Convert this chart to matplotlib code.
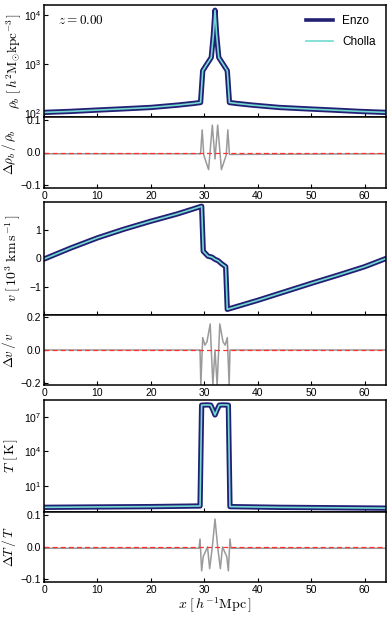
import matplotlib
matplotlib.use("Agg")
import matplotlib.pyplot as plt
from matplotlib.ticker import FixedLocator, NullLocator

plt.rcParams['font.family'] = ['Liberation Sans', 'DejaVu Sans']
plt.rcParams['mathtext.fontset'] = 'cm'

# ---------------- data ----------------
x_rho = [0, 5, 10, 15, 20, 25, 28, 29.3, 29.7, 30.5, 31.3, 31.7, 32.0, 32.3, 32.7, 33.5, 34.3, 34.7, 36, 39, 44, 49, 54, 59, 64]
rho = [103, 108, 115, 122, 130, 145, 157, 164, 730, 1000, 1360, 4000, 12500, 4000, 1360, 1000, 730, 164, 157, 145, 130, 122, 115, 108, 103]

x_drho = [0, 29.3, 29.6, 29.9, 30.8, 31.5, 32.0, 32.5, 33.2, 34.1, 34.4, 34.7, 64]
drho = [-0.004, -0.004, 0.07, -0.008, -0.053, 0.085, -0.02, 0.085, -0.053, -0.008, 0.07, -0.006, -0.004]

x_v = [0, 5, 10, 15, 20, 25, 29.5, 29.8, 30.7, 31.4, 32.0, 32.6, 33.2, 34.0, 34.3, 40, 45, 50, 55, 60, 64]
vel = [-0.02, 0.37, 0.73, 1.04, 1.32, 1.58, 1.85, 0.26, 0.08, 0.05, -0.03, -0.08, -0.18, -0.29, -1.80, -1.48, -1.18, -0.88, -0.59, -0.29, 0.0]

x_dv = [0, 29.2, 29.35, 29.7, 30.1, 30.5, 31.1, 31.6, 32.0, 32.4, 32.9, 33.5, 33.9, 34.3, 34.65, 34.8, 64]
dv = [0.0, 0.0, -0.215, 0.076, 0.03, 0.05, 0.16, -0.215, 0.0, -0.215, 0.16, 0.05, 0.03, 0.076, -0.215, 0.0, 0.0]

x_T = [0, 10, 20, 29.2, 29.5, 30.5, 31.2, 31.6, 32.0, 32.4, 32.8, 33.5, 34.5, 34.8, 44, 54, 64]
temp = [0.13, 0.14, 0.15, 0.17, 1.0e8, 1.05e8, 1.0e8, 4.0e7, 1.4e7, 4.0e7, 1.0e8, 1.05e8, 1.0e8, 0.15, 0.13, 0.12, 0.11]

x_dT = [0, 29.0, 29.2, 29.5, 29.8, 30.2, 30.6, 31.0, 31.5, 32.0, 32.5, 33.0, 33.4, 33.8, 34.2, 34.5, 34.8, 35.0, 64]
dT = [-0.004, -0.004, 0.025, -0.075, -0.03, -0.015, 0.0, -0.068, 0.0, 0.088, 0.0, -0.068, 0.0, -0.015, -0.03, -0.075, 0.025, -0.004, -0.004]

xticks = [0, 10, 20, 30, 40, 50, 60]

enzo_c = '#221f75'
cholla_c = '#72dad0'

# ---------------- layout ----------------
W, H = 391, 621
fig = plt.figure(figsize=(W / 100, H / 100), dpi=100)
L, R = 44, 386

def ax_px(top, bottom):
    return fig.add_axes([L / W, 1 - bottom / H, (R - L) / W, (bottom - top) / H])

groups = [(5, 117, 188), (202, 315, 385), (400, 512, 582)]

def style(ax):
    ax.tick_params(direction='in', labelsize=7.5, length=3, width=0.8, top=False, right=False, pad=2)
    for s in ax.spines.values():
        s.set_linewidth(1.1)
    ax.set_xlim(0, 64)
    ax.xaxis.set_major_locator(FixedLocator(xticks))

mains, ress = [], []
for top, mid, bot in groups:
    m = ax_px(top, mid)
    r = ax_px(mid, bot)
    style(m); style(r)
    m.tick_params(labelbottom=False)
    mains.append(m); ress.append(r)

# density
ax = mains[0]
ax.plot(x_rho, rho, color=enzo_c, lw=3.8, label='Enzo', solid_joinstyle='round')
ax.plot(x_rho, rho, color=cholla_c, lw=1.2, label='Cholla')
ax.set_yscale('log')
ax.set_ylim(83, 1.6e4)
ax.yaxis.set_major_locator(FixedLocator([1e2, 1e3, 1e4]))
ax.yaxis.set_minor_locator(NullLocator())
ax.set_ylabel(r'$\rho_b\ [\,h^2\mathrm{M}_{\odot}\mathrm{kpc}^{-3}\,]$', fontsize=9.5)
ax.yaxis.set_label_coords(-0.062, 0.5)
ax.text(0.04, 0.92, r'$z = 0.00$', transform=ax.transAxes, fontsize=9.5, va='top', ha='left')
leg = ax.legend(loc='upper right', frameon=False, fontsize=8.5, handlelength=2.3,
                borderaxespad=0.45, handletextpad=0.8, labelspacing=0.75)
leg.get_lines()[0].set_linewidth(2.6)
leg.get_lines()[1].set_linewidth(1.2)

r = ress[0]
r.plot(x_drho, drho, color='#9a9a9a', lw=1.1)
r.axhline(0, color='#ff3030', lw=0.9, ls=(0, (4, 2.5)))
r.set_ylim(-0.11, 0.11)
r.yaxis.set_major_locator(FixedLocator([-0.1, 0.0, 0.1]))
r.set_ylabel(r'$\Delta\rho_b\,/\,\rho_b$', fontsize=9.5)
r.yaxis.set_label_coords(-0.076, 0.5)

# velocity
ax = mains[1]
ax.plot(x_v, vel, color=enzo_c, lw=3.8, solid_joinstyle='round')
ax.plot(x_v, vel, color=cholla_c, lw=1.2)
ax.set_ylim(-2.0, 2.0)
ax.yaxis.set_major_locator(FixedLocator([-1, 0, 1]))
ax.set_ylabel(r'$v\ [\,10^3\ \mathrm{km\,s^{-1}}\,]$', fontsize=10)
ax.yaxis.set_label_coords(-0.061, 0.5)

r = ress[1]
r.plot(x_dv, dv, color='#9a9a9a', lw=1.1)
r.axhline(0, color='#ff3030', lw=0.9, ls=(0, (4, 2.5)))
r.set_ylim(-0.215, 0.215)
r.yaxis.set_major_locator(FixedLocator([-0.2, 0.0, 0.2]))
r.set_ylabel(r'$\Delta v\,/\,v$', fontsize=9.5)
r.yaxis.set_label_coords(-0.076, 0.5)

# temperature
ax = mains[2]
ax.plot(x_T, temp, color=enzo_c, lw=3.8, solid_joinstyle='round')
ax.plot(x_T, temp, color=cholla_c, lw=1.2)
ax.set_yscale('log')
ax.set_ylim(0.051, 2.8e8)
ax.yaxis.set_major_locator(FixedLocator([1e1, 1e4, 1e7]))
ax.yaxis.set_minor_locator(NullLocator())
ax.set_ylabel(r'$T\ [\,\mathrm{K}\,]$', fontsize=10)
ax.yaxis.set_label_coords(-0.070, 0.5)

r = ress[2]
r.plot(x_dT, dT, color='#9a9a9a', lw=1.1)
r.axhline(0, color='#ff3030', lw=0.9, ls=(0, (4, 2.5)))
r.set_ylim(-0.11, 0.11)
r.yaxis.set_major_locator(FixedLocator([-0.1, 0.0, 0.1]))
r.set_ylabel(r'$\Delta T\,/\,T$', fontsize=9.5)
r.yaxis.set_label_coords(-0.076, 0.5)
r.set_xlabel(r'$x\ [\,h^{-1}\mathrm{Mpc}\,]$', fontsize=10, labelpad=1)

fig.savefig('out.png', dpi=100)
